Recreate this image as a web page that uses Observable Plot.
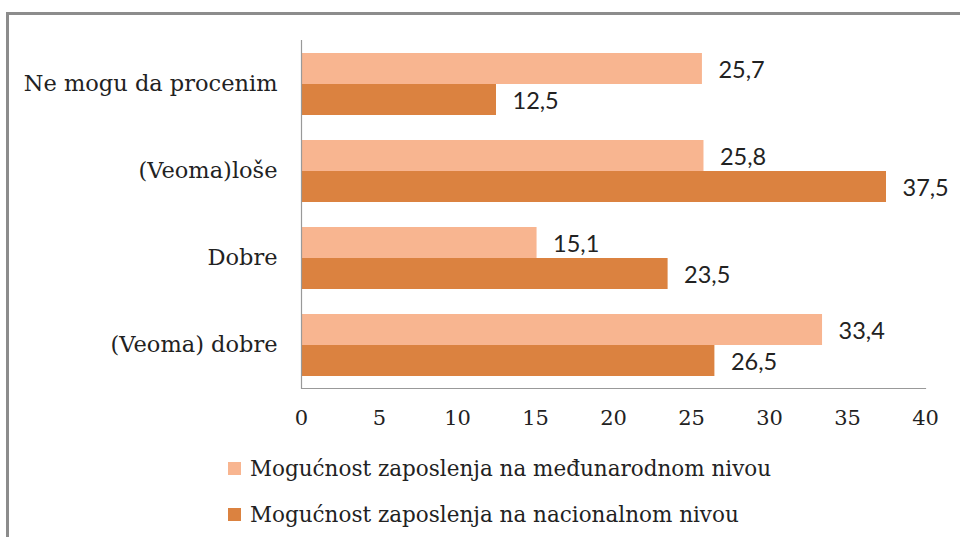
<!DOCTYPE html>
<html>
<head>
<meta charset="utf-8">
<script src="https://cdn.jsdelivr.net/npm/d3@7"></script>
<script src="https://cdn.jsdelivr.net/npm/@observablehq/plot@0.6"></script>
<style>
  body { margin: 0; background: #fff; }
  #wrap { position: relative; width: 960px; height: 537px; overflow: hidden; background: #fff; }
  #frame { position: absolute; left: 6px; top: 12px; width: 980px; height: 560px;
           border-top: 3px solid #8c8c8c; border-left: 3px solid #8c8c8c; box-sizing: border-box; }
  #chart { position: absolute; left: 0; top: 0; }
  #legend { position: absolute; left: 228px; top: 445px; font-family: "DejaVu Serif", serif;
            font-size: 21.5px; color: #222; }
  .row { display: flex; align-items: center; height: 46px; }
  .sw { width: 13px; height: 13px; margin-right: 9px; }
</style>
</head>
<body>
<div id="wrap">
  <div id="frame"></div>
  <div id="chart"></div>
  <div id="legend"></div>
</div>
<script>
const categories = ["Ne mogu da procenim", "(Veoma)loše", "Dobre", "(Veoma) dobre"];
const seriesNames = ["Mogućnost zaposlenja na međunarodnom nivou", "Mogućnost zaposlenja na nacionalnom nivou"];
const international = [25.7, 25.8, 15.1, 33.4];
const national = [12.5, 37.5, 23.5, 26.5];
const colors = ["#F8B590", "#DB8240"];
const xTicks = [0, 5, 10, 15, 20, 25, 30, 35, 40];

const data = [];
categories.forEach((c, i) => {
  data.push({category: c, series: seriesNames[0], value: international[i]});
  data.push({category: c, series: seriesNames[1], value: national[i]});
});

const fmt = v => v.toFixed(1).replace(".", ",");

const chart = Plot.plot({
  width: 960,
  height: 440,
  marginLeft: 301,
  marginRight: 35,
  marginTop: 40,
  marginBottom: 52,
  style: {fontFamily: "DejaVu Serif, serif", color: "#222", background: "transparent"},
  x: {domain: [0, 40], ticks: xTicks, label: null},
  fy: {domain: categories, padding: 0, label: null},
  y: {domain: seriesNames, paddingInner: 0, paddingOuter: 0.4, axis: null},
  color: {domain: seriesNames, range: colors},
  marks: [
    Plot.barX(data, {fy: "category", y: "series", x: "value", fill: "series"}),
    Plot.text(data, {fy: "category", y: "series", x: "value", text: d => fmt(d.value),
      textAnchor: "start", dx: 16, dy: 1, fontSize: 23.5, fontFamily: "Lato, sans-serif", fill: "#222"}),
    Plot.ruleX([0], {stroke: "#999", strokeWidth: 1.2}),
    Plot.frame({anchor: "bottom", stroke: "#999", strokeWidth: 1.2, facet: "super"}),
    Plot.axisX({ticks: xTicks, tickSize: 0, tickPadding: 22, fontSize: 21, label: null}),
    Plot.axisFy({anchor: "left", tickSize: 0, tickPadding: 24, fontSize: 22.5, label: null})
  ]
});
document.getElementById("chart").appendChild(chart);

const legend = document.getElementById("legend");
seriesNames.forEach((s, i) => {
  const row = document.createElement("div");
  row.className = "row";
  const sw = document.createElement("div");
  sw.className = "sw";
  sw.style.background = colors[i];
  const t = document.createElement("span");
  t.textContent = s;
  row.appendChild(sw); row.appendChild(t);
  legend.appendChild(row);
});
</script>
</body>
</html>
